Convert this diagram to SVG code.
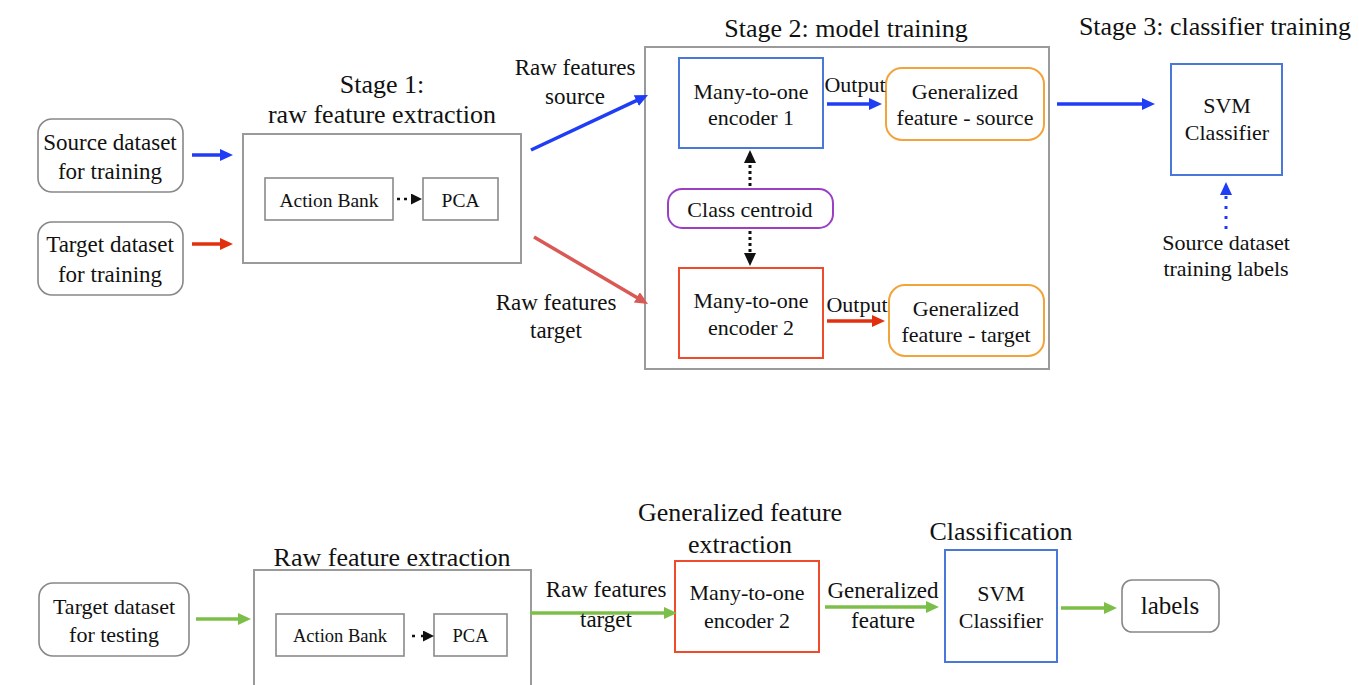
<svg xmlns="http://www.w3.org/2000/svg" width="1359" height="685" viewBox="0 0 1359 685">
<style>
text{font-family:"Liberation Serif","Times New Roman",serif;fill:#111;text-anchor:middle}
.t{font-size:26px}
.n{font-size:22px}
.d{font-size:23px}
.s{font-size:19.5px}
.rnd{fill:#fff;stroke:#888;stroke-width:1.6}
.gray{fill:#fff;stroke:#9a9a9a;stroke-width:2}
.sm{fill:#fff;stroke:#8a8a8a;stroke-width:1.6}
.blue{fill:#fff;stroke:#4a78d8;stroke-width:2}
.red{fill:#fff;stroke:#ee4a2c;stroke-width:2}
.orange{fill:#fff;stroke:#f2a33a;stroke-width:2}
.purple{fill:#fff;stroke:#9b3fc4;stroke-width:2}
.ab{stroke:#1f3df5;stroke-width:3.5;fill:none;marker-end:url(#hb)}
.ar{stroke:#e2300f;stroke-width:3.5;fill:none;marker-end:url(#hr)}
.ap{stroke:#d95a55;stroke-width:3.5;fill:none;marker-end:url(#hp)}
.ag{stroke:#7cbf48;stroke-width:3.5;fill:none;marker-end:url(#hg)}
.ak{stroke:#111;stroke-width:3;fill:none;stroke-dasharray:3 3;marker-end:url(#hk)}
.aks{stroke:#111;stroke-width:2.5;fill:none;stroke-dasharray:3 4;marker-end:url(#hks)}
.abd{stroke:#1f3df5;stroke-width:3;fill:none;stroke-dasharray:3 7;marker-end:url(#hb)}
</style>
<defs>
<marker id="hb" viewBox="0 0 13 12" markerWidth="13" markerHeight="12" refX="3" refY="6" orient="auto" markerUnits="userSpaceOnUse"><path d="M0,0 L13,6 L0,12 z" fill="#1f3df5"/></marker>
<marker id="hr" viewBox="0 0 13 12" markerWidth="13" markerHeight="12" refX="3" refY="6" orient="auto" markerUnits="userSpaceOnUse"><path d="M0,0 L13,6 L0,12 z" fill="#e2300f"/></marker>
<marker id="hp" viewBox="0 0 13 12" markerWidth="13" markerHeight="12" refX="3" refY="6" orient="auto" markerUnits="userSpaceOnUse"><path d="M0,0 L13,6 L0,12 z" fill="#d95a55"/></marker>
<marker id="hg" viewBox="0 0 13 12" markerWidth="13" markerHeight="12" refX="3" refY="6" orient="auto" markerUnits="userSpaceOnUse"><path d="M0,0 L13,6 L0,12 z" fill="#7cbf48"/></marker>
<marker id="hk" viewBox="0 0 13 12" markerWidth="13" markerHeight="12" refX="3" refY="6" orient="auto" markerUnits="userSpaceOnUse"><path d="M0,0 L13,6 L0,12 z" fill="#111"/></marker>
<marker id="hks" viewBox="0 0 11 11" markerWidth="11" markerHeight="11" refX="2" refY="5.5" orient="auto" markerUnits="userSpaceOnUse"><path d="M0,0 L11,5.5 L0,11 z" fill="#111"/></marker>
</defs>
<rect width="1359" height="685" fill="#fff"/>

<g id="titles">
<text class="t" x="382" y="93">Stage 1:</text>
<text class="t" x="382" y="123">raw feature extraction</text>
<text class="t" x="846" y="37">Stage 2: model training</text>
<text class="t" x="1215" y="35">Stage 3: classifier training</text>
<text class="t" x="392" y="566">Raw feature extraction</text>
<text class="t" x="740" y="521">Generalized feature</text>
<text class="t" x="740" y="553">extraction</text>
<text class="t" x="1001" y="540">Classification</text>
</g>

<g id="source-train">
<rect class="rnd" x="38" y="119" width="145" height="73" rx="14"/>
<text class="d" x="110" y="150">Source dataset</text>
<text class="d" x="110" y="179">for training</text>
</g>
<g id="target-train">
<rect class="rnd" x="38" y="222" width="145" height="73" rx="14"/>
<text class="d" x="110" y="252">Target dataset</text>
<text class="d" x="110" y="282">for training</text>
</g>
<g id="stage1">
<rect class="gray" x="243" y="134" width="278" height="129"/>
</g>
<g id="actionbank1">
<rect class="sm" x="265" y="178" width="128" height="42"/>
<text class="s" x="329" y="207">Action Bank</text>
</g>
<g id="pca1">
<rect class="sm" x="423" y="178" width="75" height="42"/>
<text class="s" x="460.5" y="207">PCA</text>
</g>
<g id="stage2">
<rect class="gray" x="645" y="47" width="404" height="322"/>
</g>
<g id="encoder1">
<rect class="blue" x="679" y="58" width="144" height="90"/>
<text class="n" x="751" y="99">Many-to-one</text>
<text class="n" x="751" y="125">encoder 1</text>
</g>
<g id="gen-source">
<rect class="orange" x="886" y="68" width="158" height="72" rx="16"/>
<text class="n" x="965" y="99">Generalized</text>
<text class="n" x="965" y="125">feature - source</text>
</g>
<g id="centroid">
<rect class="purple" x="668" y="189" width="165" height="39" rx="14"/>
<text class="n" x="750" y="217">Class centroid</text>
</g>
<g id="encoder2">
<rect class="red" x="679" y="268" width="144" height="90"/>
<text class="n" x="751" y="308">Many-to-one</text>
<text class="n" x="751" y="335">encoder 2</text>
</g>
<g id="gen-target">
<rect class="orange" x="889" y="285" width="155" height="71" rx="16"/>
<text class="n" x="966" y="316">Generalized</text>
<text class="n" x="966" y="342">feature - target</text>
</g>
<g id="svm1">
<rect class="blue" x="1171" y="64" width="111" height="111"/>
<text class="n" x="1227" y="113">SVM</text>
<text class="n" x="1227" y="140">Classifier</text>
</g>
<g id="train-labels">
<text class="n" x="1226" y="250">Source dataset</text>
<text class="n" x="1226" y="276">training labels</text>
</g>

<g id="target-test">
<rect class="rnd" x="39" y="583" width="150" height="73" rx="14"/>
<text class="n" x="114" y="614">Target dataset</text>
<text class="n" x="114" y="642">for testing</text>
</g>
<g id="rawbox2">
<rect class="gray" x="254" y="570" width="277" height="125"/>
</g>
<g id="actionbank2">
<rect class="sm" x="276" y="614" width="128" height="42"/>
<text class="s" x="340" y="642" style="font-size:18.5px">Action Bank</text>
</g>
<g id="pca2">
<rect class="sm" x="434" y="614" width="73" height="42"/>
<text class="s" x="470.5" y="642" style="font-size:18.5px">PCA</text>
</g>
<g id="encoder2b">
<rect class="red" x="675" y="561" width="144" height="91"/>
<text class="n" x="747" y="600">Many-to-one</text>
<text class="n" x="747" y="628">encoder 2</text>
</g>
<g id="svm2">
<rect class="blue" x="945" y="550" width="112" height="112"/>
<text class="n" x="1001" y="601">SVM</text>
<text class="n" x="1001" y="628">Classifier</text>
</g>
<g id="labels">
<rect class="rnd" x="1122" y="580" width="97" height="52" rx="10"/>
<text x="1170" y="614" style="font-size:25px">labels</text>
</g>

<g id="connectors">
<line class="ab" x1="192" y1="155" x2="223" y2="155"/>
<line class="ar" x1="192" y1="244" x2="223" y2="244"/>
<line class="aks" x1="397" y1="199" x2="413" y2="199"/>
<line class="ab" x1="531" y1="150" x2="639" y2="99.3"/>
<line class="ap" x1="534" y1="237" x2="639.4" y2="298.9"/>
<line class="ab" x1="827" y1="104" x2="872" y2="104"/>
<line class="ar" x1="827" y1="321" x2="875" y2="321"/>
<line class="ab" x1="1057" y1="104" x2="1145" y2="104"/>
<line class="ak" x1="750" y1="186" x2="750" y2="160"/>
<line class="ak" x1="750" y1="231" x2="750" y2="256"/>
<line class="abd" x1="1226" y1="229" x2="1226" y2="192"/>
<line class="ag" x1="196" y1="619" x2="241" y2="619"/>
<line class="aks" x1="412" y1="636" x2="425" y2="636" style="stroke-dasharray:3 6"/>
<line class="ag" x1="530" y1="613" x2="667" y2="613"/>
<line class="ag" x1="825" y1="607" x2="929" y2="607"/>
<line class="ag" x1="1061" y1="608" x2="1107" y2="608"/>
</g>

<g id="connector-labels">
<text class="d" x="575" y="75">Raw features</text>
<text class="d" x="575" y="104">source</text>
<text class="d" x="556" y="310">Raw features</text>
<text class="d" x="556" y="338">target</text>
<text class="n" x="855" y="92">Output</text>
<text class="n" x="857" y="312">Output</text>
<text class="d" x="606" y="597">Raw features</text>
<text class="d" x="606" y="627">target</text>
<text class="d" x="883" y="598">Generalized</text>
<text class="d" x="883" y="628">feature</text>
</g>
</svg>
